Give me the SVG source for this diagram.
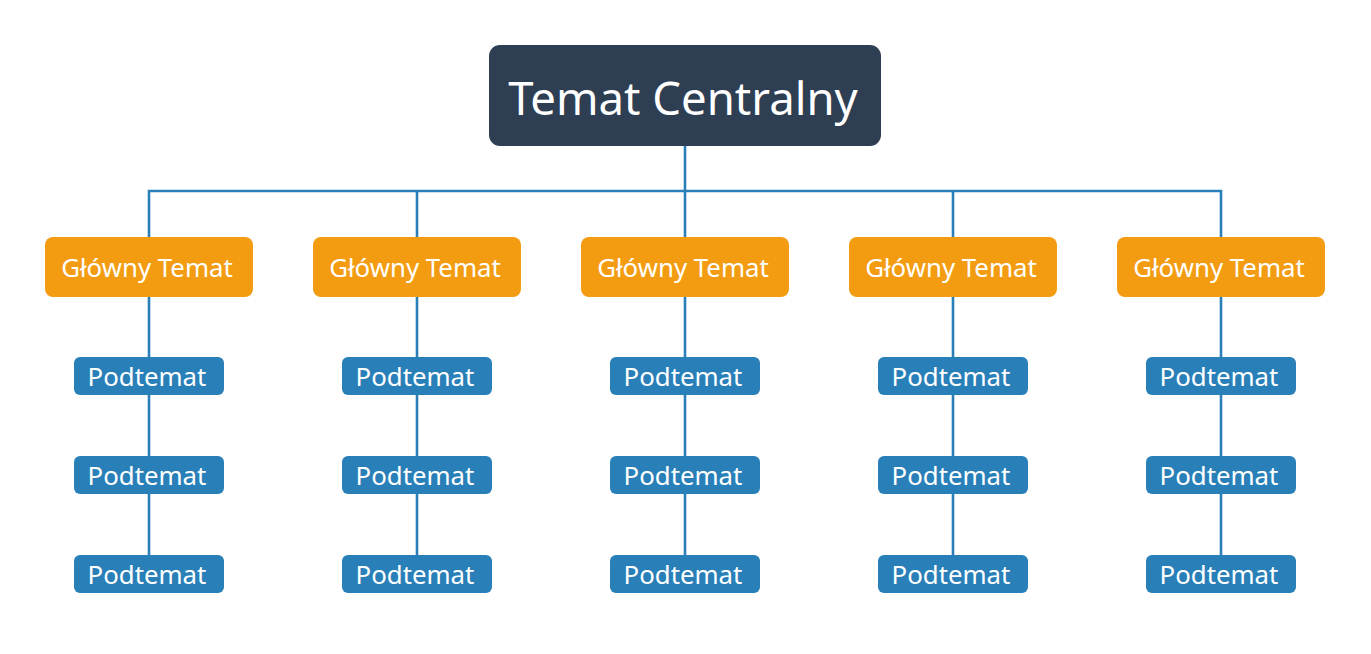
<svg xmlns="http://www.w3.org/2000/svg" width="1371" height="654" viewBox="0 0 1371 654">
<style>
.c{fill:#2e3e53}
.m{fill:#f39c12}
.s{fill:#2980b9}
text{fill:#fff;font-family:"Noto Sans","Open Sans","DejaVu Sans",sans-serif;text-anchor:middle}
.tc{font-size:45.5px}
.tm{font-size:25.8px}
.ts{font-size:25.8px}
.ln{stroke:#2980b9;stroke-width:2.6;fill:none}
</style>
<rect width="1371" height="654" fill="#fff"/>
<g id="connectors" class="ln">
<path d="M685 146V191M149 237V191H1221V237M417 191V237M953 191V237M685 191V237"/>
<path d="M149 297V556M417 297V556M685 297V556M953 297V556M1221 297V556"/>
</g>
<g id="central"><rect class="c" x="489" y="45" width="392" height="101" rx="11"/><text class="tc" x="683" y="115">Temat Centralny</text></g>
<g id="main1"><rect class="m" x="45" y="237" width="208" height="60" rx="8"/><text class="tm" x="147" y="277">Główny Temat</text></g>
<g id="main2"><rect class="m" x="313" y="237" width="208" height="60" rx="8"/><text class="tm" x="415" y="277">Główny Temat</text></g>
<g id="main3"><rect class="m" x="581" y="237" width="208" height="60" rx="8"/><text class="tm" x="683" y="277">Główny Temat</text></g>
<g id="main4"><rect class="m" x="849" y="237" width="208" height="60" rx="8"/><text class="tm" x="951" y="277">Główny Temat</text></g>
<g id="main5"><rect class="m" x="1117" y="237" width="208" height="60" rx="8"/><text class="tm" x="1219" y="277">Główny Temat</text></g>
<g id="sub1a"><rect class="s" x="74" y="357" width="150" height="38" rx="6"/><text class="ts" x="147" y="386">Podtemat</text></g>
<g id="sub1b"><rect class="s" x="74" y="456" width="150" height="38" rx="6"/><text class="ts" x="147" y="485">Podtemat</text></g>
<g id="sub1c"><rect class="s" x="74" y="555" width="150" height="38" rx="6"/><text class="ts" x="147" y="584">Podtemat</text></g>
<g id="sub2a"><rect class="s" x="342" y="357" width="150" height="38" rx="6"/><text class="ts" x="415" y="386">Podtemat</text></g>
<g id="sub2b"><rect class="s" x="342" y="456" width="150" height="38" rx="6"/><text class="ts" x="415" y="485">Podtemat</text></g>
<g id="sub2c"><rect class="s" x="342" y="555" width="150" height="38" rx="6"/><text class="ts" x="415" y="584">Podtemat</text></g>
<g id="sub3a"><rect class="s" x="610" y="357" width="150" height="38" rx="6"/><text class="ts" x="683" y="386">Podtemat</text></g>
<g id="sub3b"><rect class="s" x="610" y="456" width="150" height="38" rx="6"/><text class="ts" x="683" y="485">Podtemat</text></g>
<g id="sub3c"><rect class="s" x="610" y="555" width="150" height="38" rx="6"/><text class="ts" x="683" y="584">Podtemat</text></g>
<g id="sub4a"><rect class="s" x="878" y="357" width="150" height="38" rx="6"/><text class="ts" x="951" y="386">Podtemat</text></g>
<g id="sub4b"><rect class="s" x="878" y="456" width="150" height="38" rx="6"/><text class="ts" x="951" y="485">Podtemat</text></g>
<g id="sub4c"><rect class="s" x="878" y="555" width="150" height="38" rx="6"/><text class="ts" x="951" y="584">Podtemat</text></g>
<g id="sub5a"><rect class="s" x="1146" y="357" width="150" height="38" rx="6"/><text class="ts" x="1219" y="386">Podtemat</text></g>
<g id="sub5b"><rect class="s" x="1146" y="456" width="150" height="38" rx="6"/><text class="ts" x="1219" y="485">Podtemat</text></g>
<g id="sub5c"><rect class="s" x="1146" y="555" width="150" height="38" rx="6"/><text class="ts" x="1219" y="584">Podtemat</text></g>
</svg>
